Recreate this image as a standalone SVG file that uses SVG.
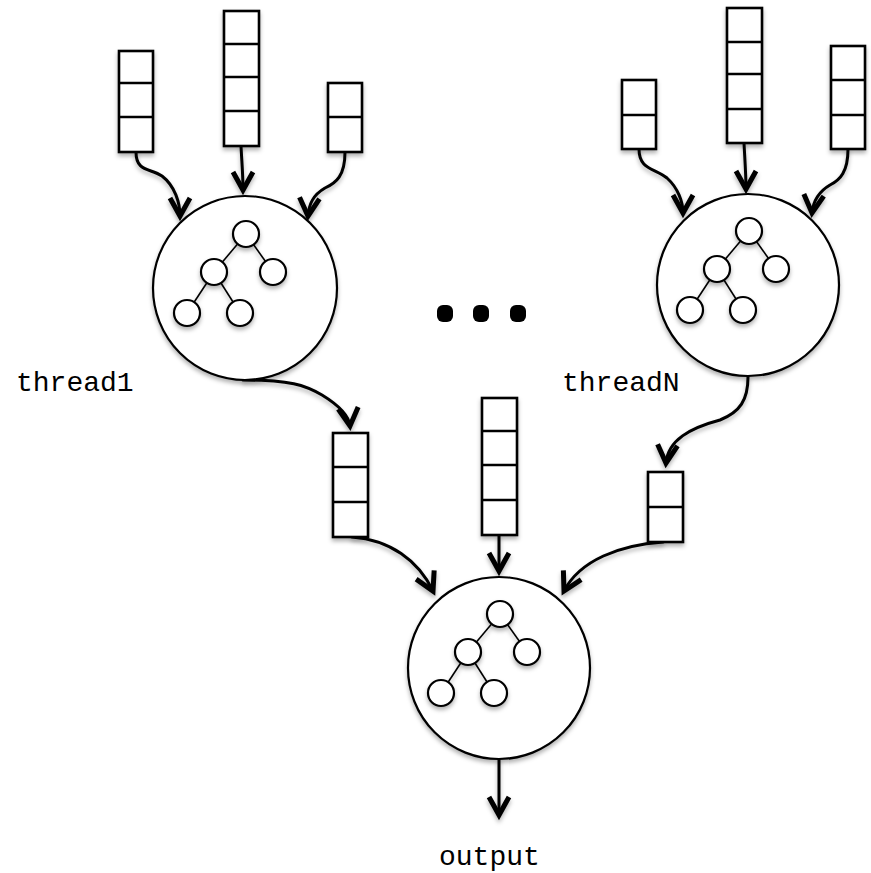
<svg xmlns="http://www.w3.org/2000/svg" width="871" height="873" viewBox="0 0 871 873">
  <style>
    .cell { fill: #fff; stroke: #000; stroke-width: 2.6; }
    .div { stroke: #000; stroke-width: 2.4; }
    .ring { fill: #fff; stroke: #000; stroke-width: 2.2; }
    .leaf { fill: #fff; stroke: #000; stroke-width: 2.2; }
    .edge { stroke: #000; stroke-width: 1.6; }
    .flow { fill: none; stroke: #000; stroke-width: 3; stroke-linecap: round; marker-end: url(#chev); }
    .label { font-family: "Liberation Mono", "Courier New", monospace; font-size: 28px; fill: #000; }
  </style>
  <defs>
    <filter id="shade" x="-20%" y="-20%" width="140%" height="140%">
      <feDropShadow dx="0" dy="3" stdDeviation="2" flood-color="#000" flood-opacity="0.3"/>
    </filter>
    <marker id="chev" markerUnits="userSpaceOnUse" markerWidth="30" markerHeight="30" viewBox="-24 -14 30 28" refX="0" refY="0" orient="auto">
      <path d="M-18,-10 L0,0 L-18,10" fill="none" stroke="#000" stroke-width="5" stroke-linejoin="miter" stroke-miterlimit="6"/>
    </marker>
    <!-- small binary tree drawn around the origin -->
    <g id="tree">
      <line class="edge" x1="1" y1="-54" x2="-31" y2="-16"/>
      <line class="edge" x1="1" y1="-54" x2="28" y2="-16"/>
      <line class="edge" x1="-31" y1="-16" x2="-58" y2="25"/>
      <line class="edge" x1="-31" y1="-16" x2="-5" y2="25"/>
      <circle class="leaf" cx="1" cy="-54" r="13"/>
      <circle class="leaf" cx="-31" cy="-16" r="13"/>
      <circle class="leaf" cx="28" cy="-16" r="13"/>
      <circle class="leaf" cx="-58" cy="25" r="13"/>
      <circle class="leaf" cx="-5" cy="25" r="13"/>
    </g>
  </defs>

  <rect width="871" height="873" fill="#fff"/>

  <!-- connectors -->
  <g id="connectors" filter="url(#shade)">
    <path class="flow" d="M136,152 C136,172 150,168 162,176 C175,186 180,203 180,216"/>
    <path class="flow" d="M241,146 C242,165 243,175 243,190"/>
    <path class="flow" d="M345,152 C345,176 336,183 325,188 C313,195 309,204 308,216"/>
    <path class="flow" d="M639,149 C639,170 655,168 667,178 C678,188 683,202 683,213"/>
    <path class="flow" d="M744,143 C745,162 746,175 746,189"/>
    <path class="flow" d="M848,149 C848,172 840,180 830,185 C818,192 813,203 812,213"/>
    <path class="flow" d="M243,380 C290,380 305,385 322,395 C340,406 349,416 350,426"/>
    <path class="flow" d="M748,377 C748,400 740,412 720,420 C690,428 668,440 666,463"/>
    <path class="flow" d="M352,537 C390,540 418,560 433,591"/>
    <path class="flow" d="M499,535 L499,571"/>
    <path class="flow" d="M663,542 C620,545 580,560 564,591"/>
    <path class="flow" d="M499,759 L499,815"/>
  </g>

  <!-- input queues of thread1 -->
  <g id="queue-a" filter="url(#shade)">
    <rect class="cell" x="119" y="51" width="34" height="101"/>
    <line class="div" x1="119" y1="83" x2="153" y2="83"/>
    <line class="div" x1="119" y1="117" x2="153" y2="117"/>
  </g>
  <g id="queue-b" filter="url(#shade)">
    <rect class="cell" x="224" y="11" width="35" height="135"/>
    <line class="div" x1="224" y1="44" x2="259" y2="44"/>
    <line class="div" x1="224" y1="77" x2="259" y2="77"/>
    <line class="div" x1="224" y1="111" x2="259" y2="111"/>
  </g>
  <g id="queue-c" filter="url(#shade)">
    <rect class="cell" x="328" y="83" width="34" height="69"/>
    <line class="div" x1="328" y1="117" x2="362" y2="117"/>
  </g>

  <!-- input queues of threadN -->
  <g id="queue-d" filter="url(#shade)">
    <rect class="cell" x="622" y="80" width="34" height="69"/>
    <line class="div" x1="622" y1="115" x2="656" y2="115"/>
  </g>
  <g id="queue-e" filter="url(#shade)">
    <rect class="cell" x="727" y="8" width="35" height="135"/>
    <line class="div" x1="727" y1="42" x2="762" y2="42"/>
    <line class="div" x1="727" y1="74" x2="762" y2="74"/>
    <line class="div" x1="727" y1="109" x2="762" y2="109"/>
  </g>
  <g id="queue-f" filter="url(#shade)">
    <rect class="cell" x="831" y="46" width="34" height="103"/>
    <line class="div" x1="831" y1="80" x2="865" y2="80"/>
    <line class="div" x1="831" y1="115" x2="865" y2="115"/>
  </g>

  <!-- thread nodes -->
  <g id="thread1">
    <circle class="ring" cx="245" cy="288" r="92" filter="url(#shade)"/>
    <use href="#tree" x="245" y="288" filter="url(#shade)"/>
  </g>
  <g id="threadN">
    <circle class="ring" cx="748" cy="285" r="91" filter="url(#shade)"/>
    <use href="#tree" x="748" y="285" filter="url(#shade)"/>
  </g>

  <!-- ellipsis between threads -->
  <g id="ellipsis">
    <rect x="437" y="305" width="16" height="17" rx="6"/>
    <rect x="473" y="305" width="16" height="17" rx="6"/>
    <rect x="510" y="305" width="16" height="17" rx="6"/>
  </g>

  <!-- per-thread output queues -->
  <g id="queue-g" filter="url(#shade)">
    <rect class="cell" x="333" y="433" width="35" height="104"/>
    <line class="div" x1="333" y1="467" x2="368" y2="467"/>
    <line class="div" x1="333" y1="502" x2="368" y2="502"/>
  </g>
  <g id="queue-h" filter="url(#shade)">
    <rect class="cell" x="482" y="398" width="35" height="137"/>
    <line class="div" x1="482" y1="431" x2="517" y2="431"/>
    <line class="div" x1="482" y1="465" x2="517" y2="465"/>
    <line class="div" x1="482" y1="500" x2="517" y2="500"/>
  </g>
  <g id="queue-i" filter="url(#shade)">
    <rect class="cell" x="648" y="472" width="35" height="70"/>
    <line class="div" x1="648" y1="507" x2="683" y2="507"/>
  </g>

  <!-- merge node -->
  <g id="merge">
    <circle class="ring" cx="499" cy="668" r="91" filter="url(#shade)"/>
    <use href="#tree" x="499" y="668" filter="url(#shade)"/>
  </g>

  <!-- labels -->
  <g id="labels">
    <text class="label" x="16" y="391">thread1</text>
    <text class="label" x="562" y="391">threadN</text>
    <text class="label" x="439" y="865">output</text>
  </g>
</svg>
